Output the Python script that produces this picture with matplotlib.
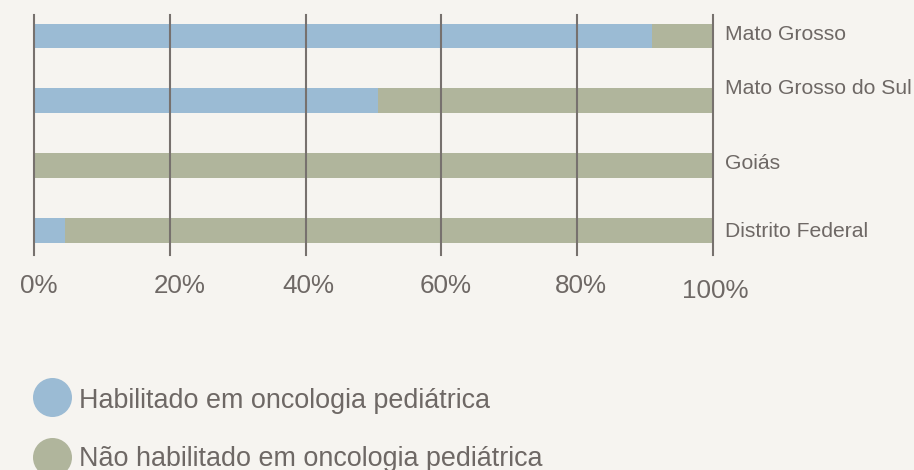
import matplotlib
matplotlib.use("Agg")
import matplotlib.pyplot as plt
import matplotlib.transforms as mtransforms
from matplotlib.patches import Circle
import numpy as np

plt.rcParams['font.family'] = ['Liberation Sans', 'DejaVu Sans']

# ---- data ----
categories = ["Mato Grosso", "Mato Grosso do Sul", "Goiás", "Distrito Federal"]
habilitado = [91.0, 50.6, 0.0, 4.6]          # % habilitado
nao_habilitado = [100 - v for v in habilitado]
series_names = ["Habilitado em oncologia pediátrica",
                "Não habilitado em oncologia pediátrica"]
tick_values = [0, 20, 40, 60, 80, 100]
tick_labels = ["0%", "20%", "40%", "60%", "80%", "100%"]

# ---- style ----
BG = "#f6f4f0"
BLUE = "#9bbbd4"
OLIVE = "#b0b59c"
TXT = "#6e6865"
GRID = "#77716e"

W, H = 914, 470
fig = plt.figure(figsize=(W / 100, H / 100), dpi=100, facecolor=BG)
ax = fig.add_axes([34 / W, (H - 255) / H, 679 / W, 240 / H])
ax.set_facecolor("none")

y = np.arange(len(categories))
bh = 0.385
ax.barh(y, habilitado, height=bh, color=BLUE, zorder=2)
ax.barh(y, nao_habilitado, left=habilitado, height=bh, color=OLIVE, zorder=2)

for t in tick_values:
    ax.axvline(t, color=GRID, lw=1.5, zorder=3, clip_on=False)

ax.set_xlim(0, 100)
ax.set_ylim(3.378, -0.324)
for s in ax.spines.values():
    s.set_visible(False)
ax.set_xticks([])
ax.set_yticks([])

# tick labels (manual placement below axes)
blend = mtransforms.blended_transform_factory(ax.transData, ax.transAxes)
tick_nudge_x = [5, 10, 3, 4, 4, 2]
tick_nudge_y = [-31, -31, -31, -31, -31, -36]
for v, lab, dx, dy in zip(tick_values, tick_labels, tick_nudge_x, tick_nudge_y):
    tr = mtransforms.offset_copy(blend, fig=fig, x=dx, y=dy, units='dots')
    ax.text(v, 0, lab, transform=tr, ha='center', va='center',
            fontsize=18.7, color=TXT)

# category labels on the right
label_nudge_y = [-4, 6.5, -3.5, -6.5]
for i, (cat, dy) in enumerate(zip(categories, label_nudge_y)):
    tr = mtransforms.offset_copy(ax.transData, fig=fig, x=12, y=dy, units='dots')
    ax.text(100, i, cat, transform=tr, ha='left', va='baseline',
            fontsize=15.2, color=TXT)

# legend
ident = mtransforms.IdentityTransform()
leg_colors = [BLUE, OLIVE]
leg_cy = [397.5, 457.5]
leg_base = [408, 466]
for name, c, cy, by in zip(series_names, leg_colors, leg_cy, leg_base):
    fig.add_artist(Circle((52.5, H - cy), 19.5, transform=ident,
                          facecolor=c, edgecolor='none'))
    fig.text(79 / W, (H - by) / H, name, ha='left', va='baseline',
             fontsize=19.4, color=TXT)

fig.savefig("out.png", dpi=100, facecolor=BG)
